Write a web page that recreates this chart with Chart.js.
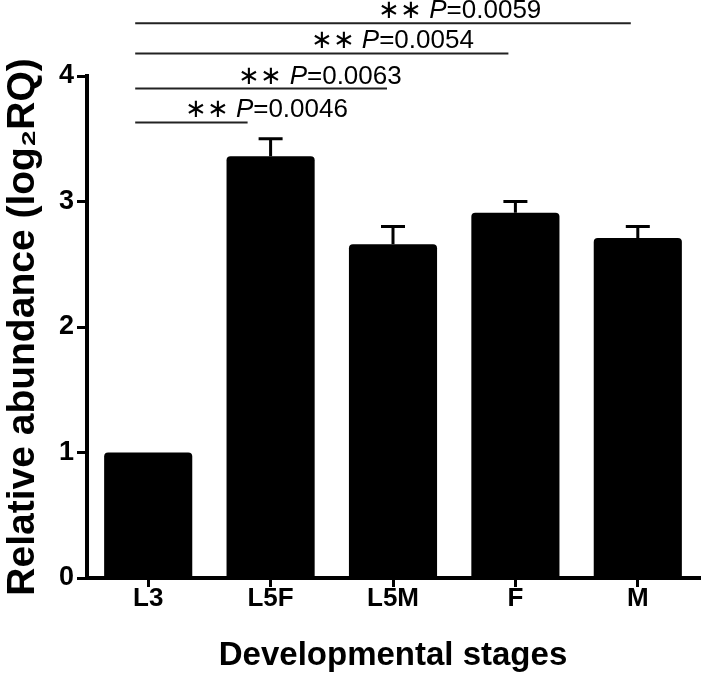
<!DOCTYPE html>
<html>
<head>
<meta charset="utf-8">
<script src="https://cdn.jsdelivr.net/npm/chart.js@4"></script>
<style>
  body { margin: 0; background: #fff; }
</style>
</head>
<body>
<canvas id="chart" width="707" height="682"></canvas>
<script>
// data
const categories = ['L3', 'L5F', 'L5M', 'F', 'M'];
const means = [1.0, 3.36, 2.66, 2.91, 2.71];
const errors = [0, 0.14, 0.14, 0.09, 0.09];
const yTicks = [0, 1, 2, 3, 4];

// significance brackets, all vs L3
const compareWith = [1, 2, 3, 4];
const bracketLevels = [3.63, 3.90, 4.18, 4.42];
const stars = ['∗∗', '∗∗', '∗∗', '∗∗'];
const pValues = ['0.0046', '0.0063', '0.0054', '0.0059'];

// styling bits for the brackets (pixels / fractions)
const bracketStartShift = -13;
const bracketEndShift = [-23, -6, -7, -7];
const labelShift = [0.44, 0.41, 0.47, 0.49];

const FONT = "'Liberation Sans', Arial, sans-serif";

const errorBars = {
  id: 'errorBars',
  afterDatasetsDraw(chart) {
    const ctx = chart.ctx;
    const y = chart.scales.y;
    const meta = chart.getDatasetMeta(0);
    ctx.save();
    ctx.strokeStyle = '#000';
    ctx.lineWidth = 3;
    meta.data.forEach((bar, i) => {
      if (!errors[i]) return;
      const top = y.getPixelForValue(means[i] + errors[i]);
      ctx.beginPath();
      ctx.moveTo(bar.x, bar.y);
      ctx.lineTo(bar.x, top);
      ctx.moveTo(bar.x - 12, top);
      ctx.lineTo(bar.x + 12, top);
      ctx.stroke();
    });
    ctx.restore();
  }
};

const brackets = {
  id: 'brackets',
  afterDraw(chart) {
    const ctx = chart.ctx;
    const x = chart.scales.x;
    const y = chart.scales.y;
    ctx.save();
    compareWith.forEach((j, i) => {
      const x1 = x.getPixelForValue(0) + bracketStartShift;
      const x2 = x.getPixelForValue(j) + bracketEndShift[i];
      const yy = y.getPixelForValue(bracketLevels[i]);
      ctx.strokeStyle = '#222';
      ctx.lineWidth = 2;
      ctx.beginPath();
      ctx.moveTo(x1, yy);
      ctx.lineTo(x2, yy);
      ctx.stroke();

      // label: stars, italic P, then =value
      let tx = x1 + labelShift[i] * (x2 - x1);
      const base = yy - 5;
      ctx.fillStyle = '#000';
      ctx.textBaseline = 'alphabetic';
      ctx.textAlign = 'left';
      ctx.font = '26px ' + FONT;
      ctx.fillText(stars[i] + ' ', tx, base);
      tx += ctx.measureText(stars[i] + ' ').width;
      ctx.font = 'italic 26px ' + FONT;
      ctx.fillText('P', tx, base);
      tx += ctx.measureText('P').width;
      ctx.font = '26px ' + FONT;
      ctx.fillText('=' + pValues[i], tx, base);
    });
    ctx.restore();
  }
};

new Chart(document.getElementById('chart'), {
  type: 'bar',
  data: {
    labels: categories,
    datasets: [{
      data: means,
      backgroundColor: '#000',
      borderRadius: 4,
      borderSkipped: 'start',
      barPercentage: 0.72,
      categoryPercentage: 1.0
    }]
  },
  options: {
    responsive: false,
    animation: false,
    layout: { padding: { top: 76, right: 8, left: 0, bottom: 0 } },
    plugins: {
      legend: { display: false },
      tooltip: { enabled: false }
    },
    scales: {
      x: {
        offset: true,
        grid: {
          offset: false,
          drawOnChartArea: false,
          drawTicks: true,
          tickLength: 9,
          lineWidth: 3,
          color: '#000'
        },
        border: { display: true, width: 4, color: '#000' },
        ticks: {
          color: '#000',
          padding: -4,
          font: { family: FONT, size: 26, weight: 'bold' }
        },
        title: {
          display: true,
          text: 'Developmental stages',
          color: '#000',
          padding: { top: 0, bottom: 6 },
          font: { family: FONT, size: 33, weight: 'bold' }
        },
        afterFit(scale) { scale.height = 104; }
      },
      y: {
        min: 0,
        max: 4,
        afterBuildTicks(scale) { scale.ticks = yTicks.map(v => ({ value: v })); },
        grid: {
          drawOnChartArea: false,
          drawTicks: true,
          tickLength: 10,
          lineWidth: 3,
          color: '#000'
        },
        border: { display: true, width: 4, color: '#000' },
        ticks: {
          color: '#000',
          padding: 3,
          font: { family: FONT, size: 27, weight: 'bold' }
        },
        title: {
          display: true,
          text: 'Relative abundance (log₂RQ)',
          color: '#000',
          padding: { bottom: 0, top: 0 },
          font: { family: FONT, size: 39, weight: 'bold' }
        },
        afterFit(scale) { scale.width = 87; }
      }
    }
  },
  plugins: [errorBars, brackets]
});
</script>
</body>
</html>
